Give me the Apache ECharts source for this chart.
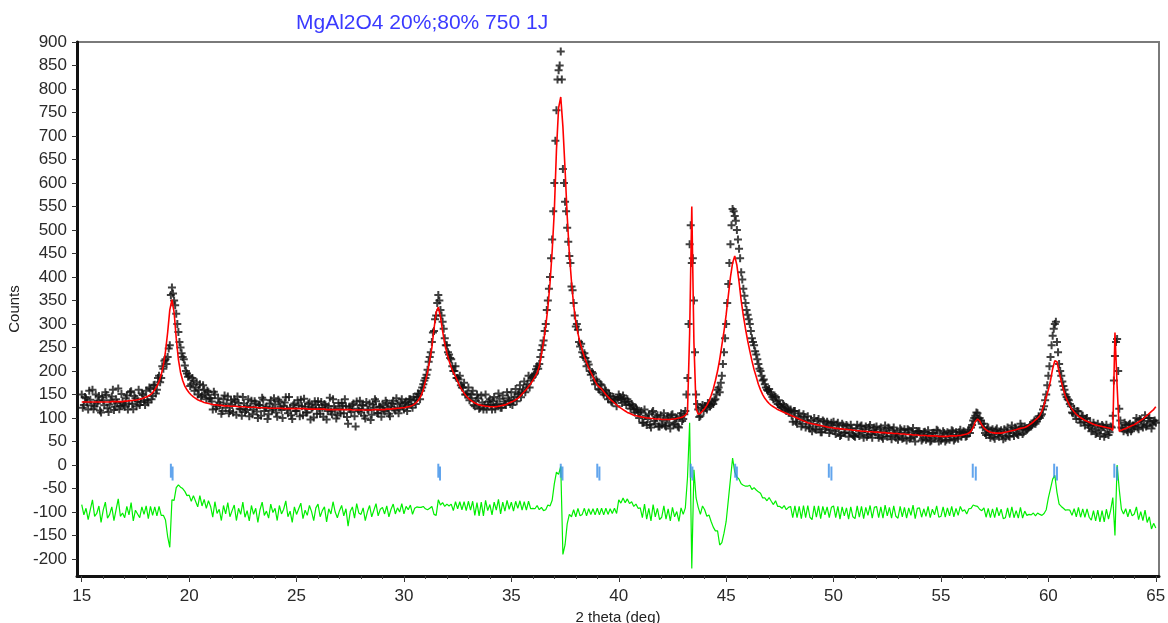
<!DOCTYPE html>
<html><head><meta charset="utf-8">
<script src="https://cdn.jsdelivr.net/npm/echarts@6/dist/echarts.min.js"></script>
<style>html,body{margin:0;padding:0;background:#fff}#c{width:1168px;height:623px}</style>
</head><body><div id="c"></div>
<script>
const chartTitle = 'MgAl2O4 20%;80% 750 1J';
const xName = '2 theta (deg)';
const yName = 'Counts';
// scan grid (2theta start and step, deg)
const scanStart = 15.0;
const scanStep = 0.1;
// calculated profile (red), one row per degree: .0 .. .9
const calcCounts = [
134,134,134,134,134,134,134,134,134,134,
134,134,134,134,135,135,135,135,135,135,
136,136,137,137,138,138,139,140,141,143,
145,147,150,154,160,168,178,192,212,242,
282,330,352,325,270,225,197,180,168,160,
154,149,145,142,139,137,135,133,132,131,
130,129,128,128,127,127,126,126,126,125,
125,125,125,124,124,124,124,123,123,123,
123,123,122,122,122,122,122,121,121,121,
121,121,121,121,120,120,120,120,120,120,
120,120,120,120,120,119,119,119,119,119,
119,119,119,119,118,118,118,118,118,118,
118,118,118,118,118,118,117,117,117,117,
117,117,117,117,117,117,118,118,118,118,
118,118,119,119,119,120,120,121,121,122,
122,123,124,125,127,130,134,140,148,160,
178,198,222,250,290,325,336,315,285,258,
238,222,208,197,188,178,168,160,153,147,
142,138,135,132,130,128,127,126,125,125,
124,124,124,124,125,126,127,128,130,132,
134,136,139,142,146,151,156,161,167,173,
180,188,196,210,235,262,295,335,387,455,
540,670,760,783,720,630,530,450,390,340,
305,280,260,245,230,218,207,197,188,178,
170,166,162,156,150,145,140,136,132,128,
124,121,118,115,112,110,108,106,105,104,
103,102,101,100,100,99,99,98,98,98,
97,97,97,97,97,98,98,99,100,101,
103,106,112,280,550,260,120,108,110,115,
120,127,136,148,162,180,200,225,255,285,
320,360,400,430,445,425,390,350,318,290,
265,243,222,203,188,172,160,150,142,136,
131,127,124,121,118,116,114,112,110,108,
106,104,102,100,98,96,94,92,90,89,
88,87,86,85,84,83,82,81,80,80,
79,78,78,77,77,76,76,75,75,74,
74,73,73,72,72,72,71,71,71,70,
70,70,69,69,69,68,68,68,67,67,
67,66,66,66,65,65,65,64,64,64,
63,63,63,63,62,62,62,62,62,61,
61,61,61,61,62,62,62,62,63,63,
64,65,66,68,72,80,92,98,94,85,
79,75,72,70,69,68,68,68,68,69,
70,71,72,73,74,75,77,78,79,80,
82,85,88,92,96,100,105,115,128,145,
160,180,205,222,220,198,178,160,146,135,
126,119,113,108,104,101,98,95,93,91,
89,87,85,84,83,82,81,80,79,78,
74,282,168,72,74,76,78,80,82,84,
86,89,92,95,98,102,106,110,114,118,
124];
// observed counts (black crosses), same grid
const obsCounts = [
150,128,142,118,139,160,125,131,147,112,
138,155,121,129,146,117,140,163,126,133,
124,148,131,157,119,142,135,128,152,138,
158,133,162,147,171,160,190,185,205,225,
230,255,378,350,322,283,250,230,212,195,
190,172,180,165,150,172,148,160,140,155,
142,118,150,125,133,109,140,122,146,115,
128,140,107,132,119,145,113,126,104,137,
118,131,100,127,143,115,124,108,138,120,
129,103,135,117,126,144,110,122,98,131,
115,127,139,106,124,112,133,120,101,128,
136,109,122,130,97,125,114,140,118,106,
121,132,110,125,88,119,128,104,135,115,
112,126,99,118,131,107,122,136,110,124,
128,114,132,109,125,137,116,130,121,140,
118,135,129,140,122,138,145,150,158,172,
185,203,230,262,285,318,362,330,305,270,
255,235,225,200,210,185,190,165,175,150,
165,142,158,125,150,120,148,118,150,128,
140,118,145,128,152,122,148,130,155,138,
155,138,162,150,170,155,178,165,190,180,
188,195,210,215,245,265,300,350,400,480,
600,755,840,880,630,560,505,445,380,345,
295,288,252,240,238,210,214,192,195,172,
178,160,170,150,158,140,147,133,140,125,
150,140,148,135,140,128,130,118,122,112,
112,90,118,85,108,80,115,88,106,82,
86,110,82,104,78,108,88,100,80,110,
98,115,185,470,430,350,150,118,105,128,
125,118,130,128,130,140,160,155,190,240,
300,385,470,545,530,500,460,410,375,345,
320,300,270,255,235,215,200,180,172,160,
162,150,140,145,130,128,122,126,115,118,
118,92,115,88,110,82,108,80,104,78,
72,100,75,98,70,95,76,92,68,90,
92,66,90,62,88,68,85,60,86,64,
60,86,62,84,58,82,64,85,58,80,
82,58,80,56,84,60,78,55,80,58,
54,78,56,76,52,74,58,79,50,72,
72,52,70,54,74,50,68,56,75,50,
52,72,50,70,54,74,52,70,56,75,
66,70,62,75,80,95,105,110,100,88,
88,64,80,58,76,56,78,60,74,55,
58,80,60,84,62,78,64,88,66,82,
75,80,82,90,88,98,100,108,125,150,
190,230,275,300,262,215,190,168,150,140,
130,112,120,98,114,90,105,84,100,80,
72,90,66,88,62,85,60,86,64,82,
105,232,268,120,80,72,85,70,88,76,
82,100,76,96,80,106,84,100,78,94,
90];
// observed counts at the interleaved scan points (15.05, 15.15, ... 64.95)
const obsCountsMid = [
122,145,133,158,127,119,150,137,116,144,
127,149,113,138,160,124,132,119,151,128,
142,118,155,130,147,125,160,134,149,128,
138,165,140,170,152,185,176,210,222,215,
248,362,365,340,300,262,238,225,200,188,
168,185,158,176,160,145,170,150,158,142,
135,156,120,142,128,115,148,131,110,138,
112,135,146,120,105,131,117,140,124,108,
136,114,128,105,139,122,98,131,116,142,
112,139,124,100,133,118,145,106,127,115,
138,104,125,141,112,130,97,123,136,109,
121,134,103,127,115,143,108,125,99,132,
110,126,140,102,124,113,131,82,120,137,
128,105,134,117,96,129,140,111,124,103,
116,137,122,104,131,118,142,110,133,125,
132,115,140,128,145,130,152,140,165,180,
192,220,240,282,310,345,350,318,290,255,
240,228,210,200,185,182,170,165,150,152,
138,150,128,137,142,122,133,128,118,136,
128,136,119,130,141,122,135,128,142,130,
128,145,136,152,144,160,155,172,165,185,
192,204,205,230,255,285,330,375,440,540,
690,820,850,820,600,540,475,430,372,318,
300,262,258,230,228,220,200,198,180,182,
162,172,155,160,148,152,135,145,138,142,
145,132,142,128,135,120,126,112,118,100,
115,90,105,98,86,112,94,102,82,106,
95,84,100,90,106,86,98,82,104,94,
108,150,300,510,440,240,130,102,122,115,
122,132,125,135,138,150,165,175,215,270,
345,430,510,540,520,480,440,395,360,330,
310,285,262,242,225,205,190,182,165,158,
155,145,148,135,138,124,130,118,122,112,
105,115,92,104,98,88,102,94,82,96,
88,76,94,82,70,92,80,88,74,84,
72,86,76,64,84,70,82,68,78,62,
78,66,82,70,76,60,80,66,74,70,
64,76,60,72,68,80,62,74,66,70,
62,74,58,68,76,56,70,60,67,72,
66,56,71,59,64,52,68,60,73,62,
59,68,54,66,61,72,56,64,70,60,
72,60,70,68,85,100,112,98,95,80,
68,76,64,72,60,74,66,70,63,76,
70,62,74,68,80,66,75,82,70,78,
78,85,86,95,92,104,105,118,138,170,
210,255,290,305,240,200,178,160,145,138,
125,110,108,115,98,104,92,98,86,90,
76,84,70,80,74,82,66,78,70,80,
180,262,200,95,78,90,74,86,72,84,
90,80,98,86,94,82,100,90,86,95];
const diffOffset = -100;
// Bragg reflection positions (two components each)
const braggA = [19.15,31.60,37.30,39.00,43.35,45.42,49.78,56.48,60.27,63.07];
const braggB = [19.23,31.68,37.38,39.10,43.43,45.50,49.90,56.62,60.40,63.20];
const xTicks = [15,20,25,30,35,40,45,50,55,60,65];
const xMinorTicks = [15,16,17,18,19,20,21,22,23,24,25,26,27,28,29,30,31,32,33,34,35,36,37,38,39,40,41,42,43,44,45,46,47,48,49,50,51,52,53,54,55,56,57,58,59,60,61,62,63,64,65];
const yTicks = [-200,-150,-100,-50,0,50,100,150,200,250,300,350,400,450,500,550,600,650,700,750,800,850,900];

const twoTheta = obsCounts.map((_, i) => +(scanStart + i * scanStep).toFixed(2));
const twoThetaMid = obsCountsMid.map((_, i) => +(scanStart + scanStep / 2 + i * scanStep).toFixed(2));
const obsData = twoTheta.map((t, i) => [t, obsCounts[i]])
  .concat(twoThetaMid.map((t, i) => [t, obsCountsMid[i]]));
const calcData = twoTheta.map((t, i) => [t, calcCounts[i]]);
const diffData = twoTheta.map((t, i) => [t, obsCounts[i] - calcCounts[i] + diffOffset]);

const FONT = 'Liberation Sans, Arial, sans-serif';
const XMIN = 14.78, XMAX = 65.15;
const chart = echarts.init(document.getElementById('c'), null, {renderer: 'canvas'});
chart.setOption({
  animation: false,
  backgroundColor: '#fff',
  title: {text: chartTitle, left: 291, top: 8,
    textStyle: {color: '#3a3aff', fontSize: 21, fontWeight: 'normal', fontFamily: FONT}},
  grid: {left: 77, right: 9, top: 42, bottom: 47, show: true, borderColor: '#7a7a7a', borderWidth: 2,
    backgroundColor: 'transparent', containLabel: false, outerBoundsMode: 'none'},
  xAxis: [{
    type: 'value', min: XMIN, max: XMAX, position: 'bottom',
    axisLine: {onZero: false, lineStyle: {color: '#111', width: 3}},
    axisTick: {show: true, customValues: xTicks, length: 6, lineStyle: {color: '#333', width: 1}},
    axisLabel: {customValues: xTicks, fontSize: 17, color: '#2a2a2a', margin: 12, fontFamily: FONT},
    splitLine: {show: false},
    name: xName, nameLocation: 'middle', nameGap: 30,
    nameTextStyle: {fontSize: 15, color: '#222', fontFamily: FONT}
  }, {
    type: 'value', min: XMIN, max: XMAX, position: 'bottom',
    axisLine: {show: false, onZero: false},
    axisTick: {show: true, customValues: xMinorTicks, length: 3, lineStyle: {color: '#444', width: 1}},
    axisLabel: {show: false}, splitLine: {show: false}
  }],
  yAxis: {
    type: 'value', min: -236, max: 900,
    axisLine: {show: true, onZero: false, lineStyle: {color: '#111', width: 3}},
    axisTick: {show: true, customValues: yTicks, length: 5, lineStyle: {color: '#333', width: 1}},
    axisLabel: {customValues: yTicks, fontSize: 17, color: '#2a2a2a', margin: 10, fontFamily: FONT},
    splitLine: {show: false},
    name: yName, nameLocation: 'middle', nameGap: 51, nameRotate: 90,
    nameTextStyle: {fontSize: 15, color: '#222', fontFamily: FONT}
  },
  series: [
    {type: 'scatter', name: 'obs', data: obsData, symbol: 'path://M3,0H5V3H8V5H5V8H3V5H0V3H3Z',
     symbolSize: 8, itemStyle: {color: '#111'}, z: 2, silent: true, large: false},
    {type: 'line', name: 'calc', data: calcData, showSymbol: false, lineStyle: {color: '#ff0000', width: 1.6}, z: 3, silent: true},
    {type: 'line', name: 'diff', data: diffData, showSymbol: false, lineStyle: {color: '#00ee00', width: 1.2}, z: 3, silent: true},
    {type: 'scatter', name: 'braggA', data: braggA.map(p => [p, -12]), symbol: 'rect', symbolSize: [2, 14], itemStyle: {color: '#3b8ee8'}, z: 4, silent: true},
    {type: 'scatter', name: 'braggB', data: braggB.map(p => [p, -18]), symbol: 'rect', symbolSize: [2, 14], itemStyle: {color: '#3b8ee8'}, z: 4, silent: true}
  ]
});
</script></body></html>
